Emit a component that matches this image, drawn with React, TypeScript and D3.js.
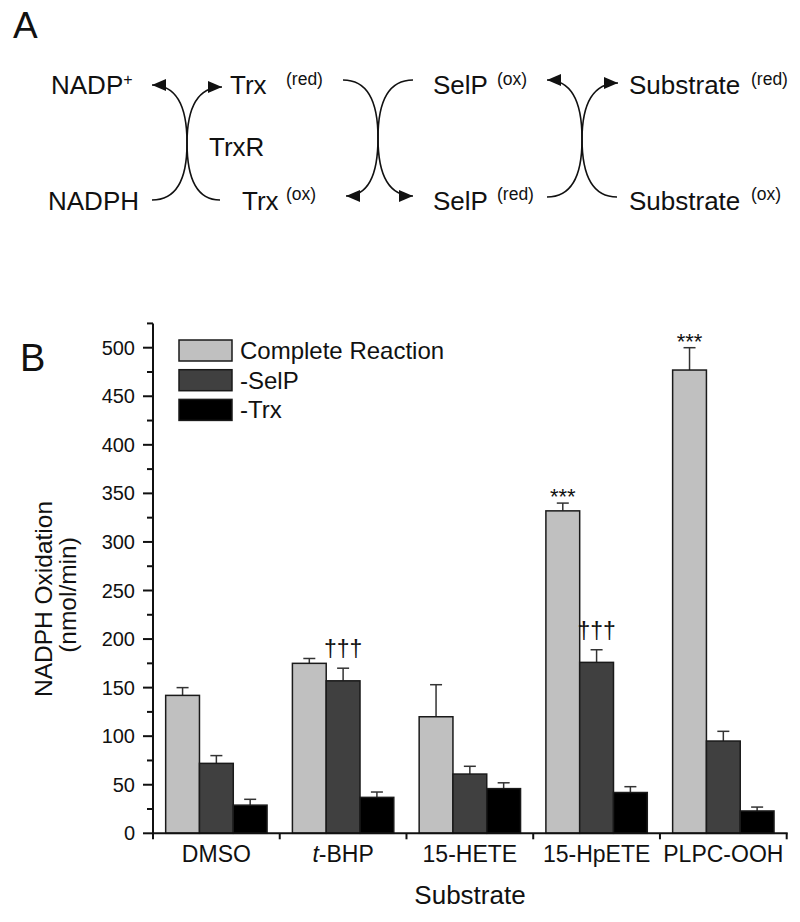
import React from "react";
import * as d3 from "d3";

const categories = ["DMSO", "t-BHP", "15-HETE", "15-HpETE", "PLPC-OOH"];
const seriesNames = ["Complete Reaction", "-SelP", "-Trx"];
const completeValues = [142, 175, 120, 332, 477];
const completeErrors = [8, 5, 33, 8, 23];
const selpValues = [72, 157, 61, 176, 95];
const selpErrors = [8, 13, 8, 13, 10];
const trxValues = [29, 37, 46, 42, 23];
const trxErrors = [6, 5.5, 6, 6, 4];
const yMajorTicks = [0, 50, 100, 150, 200, 250, 300, 350, 400, 450, 500];
const yMinorTicks = [25, 75, 125, 175, 225, 275, 325, 375, 425, 475, 525];
const starMarks = ["", "", "", "***", "***"];
const daggerMarks = ["", "†††", "", "†††", ""];

const seriesValues = [completeValues, selpValues, trxValues];
const seriesErrors = [completeErrors, selpErrors, trxErrors];
const seriesFills = ["#c0c0c0", "#404040", "#000000"];

const FONT = "'Liberation Sans', Arial, Helvetica, sans-serif";

export default function App() {
  const x = d3.scaleBand<string>().domain(categories).range([153, 786.7]).padding(0);
  const xs = d3
    .scaleBand<string>()
    .domain(seriesNames)
    .range([x.bandwidth() * 0.1, x.bandwidth() * 0.9])
    .padding(0);
  const y = d3.scaleLinear().domain([0, 500]).range([833.3, 347.7]);

  const curveX = (x0: number, y0: number, xm: number, x1: number, y1: number) => {
    const p = d3.path();
    const ym = (y0 + y1) / 2;
    p.moveTo(x0, y0);
    p.quadraticCurveTo(xm, y0, xm, ym);
    p.quadraticCurveTo(xm, y1, x1, y1);
    return p.toString();
  };

  const diagText = { fontFamily: FONT, fontSize: 26, fill: "#111" } as const;
  const supText = { fontFamily: FONT, fontSize: 17.5, fill: "#111" } as const;

  return (
    <svg
      width={800}
      height={922}
      style={{ position: "absolute", left: 0, top: 0, background: "#fff" }}
    >
      <defs>
        <marker
          id="arrow"
          viewBox="0 0 14 12"
          refX={14}
          refY={6}
          markerWidth={14}
          markerHeight={12}
          markerUnits="userSpaceOnUse"
          orient="auto"
        >
          <path d="M0,0 L14,6 L0,12 Z" fill="#111" />
        </marker>
      </defs>

      {/* Panel A */}
      <text x={13} y={38} style={{ fontFamily: FONT, fontSize: 37, fill: "#111" }}>A</text>

      <text x={51} y={94} style={diagText}>
        NADP<tspan dy={-9} style={{ fontSize: 16 }}>+</tspan>
      </text>
      <text x={48} y={210} style={diagText}>NADPH</text>
      <text x={209} y={156} style={diagText}>TrxR</text>

      <text x={230} y={94} style={diagText}>Trx</text>
      <text x={286} y={85} style={supText}>(red)</text>
      <text x={242} y={210} style={diagText}>Trx</text>
      <text x={286} y={200} style={supText}>(ox)</text>

      <text x={433} y={94} style={diagText}>SelP</text>
      <text x={497} y={85} style={supText}>(ox)</text>
      <text x={433} y={210} style={diagText}>SelP</text>
      <text x={497} y={200} style={supText}>(red)</text>

      <text x={629} y={94} style={diagText}>Substrate</text>
      <text x={751} y={85} style={supText}>(red)</text>
      <text x={629} y={210} style={diagText}>Substrate</text>
      <text x={751} y={200} style={supText}>(ox)</text>

      <g fill="none" stroke="#111" strokeWidth={1.6}>
        <path d={curveX(152, 200, 187, 222, 87)} markerEnd="url(#arrow)" />
        <path d={curveX(220, 200, 187, 152, 85)} markerEnd="url(#arrow)" />
        <path d={curveX(343, 80, 378, 346, 196)} markerEnd="url(#arrow)" />
        <path d={curveX(413, 80, 378, 413, 196)} markerEnd="url(#arrow)" />
        <path d={curveX(547, 197, 582, 618, 83)} markerEnd="url(#arrow)" />
        <path d={curveX(617, 197, 582, 547, 80)} markerEnd="url(#arrow)" />
      </g>

      {/* Panel B */}
      <text x={20} y={371} style={{ fontFamily: FONT, fontSize: 38, fill: "#111" }}>B</text>

      {/* bars */}
      {categories.map((c, ci) => (
        <g key={c} transform={`translate(${x(c)},0)`}>
          {seriesNames.map((s, si) => {
            const v = seriesValues[si][ci];
            const e = seriesErrors[si][ci];
            const bx = xs(s)!;
            const cx = bx + xs.bandwidth() / 2;
            return (
              <g key={s}>
                <line x1={cx} x2={cx} y1={y(v)} y2={y(v + e)} stroke="#333" strokeWidth={1.5} />
                <line x1={cx - 6} x2={cx + 6} y1={y(v + e)} y2={y(v + e)} stroke="#333" strokeWidth={1.5} />
                <rect
                  x={bx}
                  y={y(v)}
                  width={xs.bandwidth()}
                  height={y(0) - y(v)}
                  fill={seriesFills[si]}
                  stroke="#1a1a1a"
                  strokeWidth={1.5}
                />
              </g>
            );
          })}
          {starMarks[ci] && (
            <text
              x={xs(seriesNames[0])! + xs.bandwidth() / 2}
              y={y(completeValues[ci] + completeErrors[ci]) + 1}
              textAnchor="middle"
              style={{ fontFamily: FONT, fontSize: 22, fill: "#111" }}
            >
              {starMarks[ci]}
            </text>
          )}
          {daggerMarks[ci] && (
            <text
              x={xs(seriesNames[1])! + xs.bandwidth() / 2}
              y={y(selpValues[ci] + selpErrors[ci]) - 11}
              textAnchor="middle"
              style={{ fontFamily: FONT, fontSize: 23, fill: "#111" }}
            >
              {daggerMarks[ci]}
            </text>
          )}
        </g>
      ))}

      {/* y axis */}
      <g stroke="#111" strokeWidth={2}>
        <line x1={153} x2={153} y1={y(525)} y2={y(0)} />
        {yMajorTicks.map((t) => (
          <line key={t} x1={143} x2={153} y1={y(t)} y2={y(t)} />
        ))}
        {yMinorTicks.map((t) => (
          <line key={t} x1={147} x2={153} y1={y(t)} y2={y(t)} />
        ))}
      </g>
      {yMajorTicks.map((t) => (
        <text
          key={t}
          x={135}
          y={y(t)}
          dy="0.35em"
          textAnchor="end"
          style={{ fontFamily: FONT, fontSize: 20, fill: "#111" }}
        >
          {t}
        </text>
      ))}

      {/* x axis */}
      <g stroke="#111" strokeWidth={2}>
        <line x1={152} x2={787.7} y1={y(0)} y2={y(0)} />
        {categories.map((c) => (
          <line key={c} x1={x(c)!} x2={x(c)!} y1={y(0)} y2={y(0) + 6} />
        ))}
        <line x1={786.7} x2={786.7} y1={y(0)} y2={y(0) + 6} />
      </g>
      {categories.map((c) => (
        <text
          key={c}
          x={x(c)! + x.bandwidth() / 2}
          y={862}
          textAnchor="middle"
          style={{ fontFamily: FONT, fontSize: 23, fill: "#111" }}
        >
          {c.startsWith("t-") ? (
            <>
              <tspan fontStyle="italic">t</tspan>
              {c.slice(1)}
            </>
          ) : (
            c
          )}
        </text>
      ))}

      {/* axis titles */}
      <text
        x={470}
        y={904}
        textAnchor="middle"
        style={{ fontFamily: FONT, fontSize: 26, fill: "#111" }}
      >
        Substrate
      </text>
      <g transform="translate(51.5,599) rotate(-90)">
        <text x={0} y={0} textAnchor="middle" style={{ fontFamily: FONT, fontSize: 24.5, fill: "#111" }}>
          NADPH Oxidation
        </text>
      </g>
      <g transform="translate(76,595) rotate(-90)">
        <text x={0} y={0} textAnchor="middle" style={{ fontFamily: FONT, fontSize: 24.5, fill: "#111" }}>
          (nmol/min)
        </text>
      </g>

      {/* legend */}
      {seriesNames.map((s, i) => (
        <g key={s} transform={`translate(179,${340 + i * 29.7})`}>
          <rect x={0} y={0} width={53} height={21} fill={seriesFills[i]} stroke="#1a1a1a" strokeWidth={1.5} />
          <text x={61} y={19} style={{ fontFamily: FONT, fontSize: 24, fill: "#111" }}>
            {s}
          </text>
        </g>
      ))}
    </svg>
  );
}
